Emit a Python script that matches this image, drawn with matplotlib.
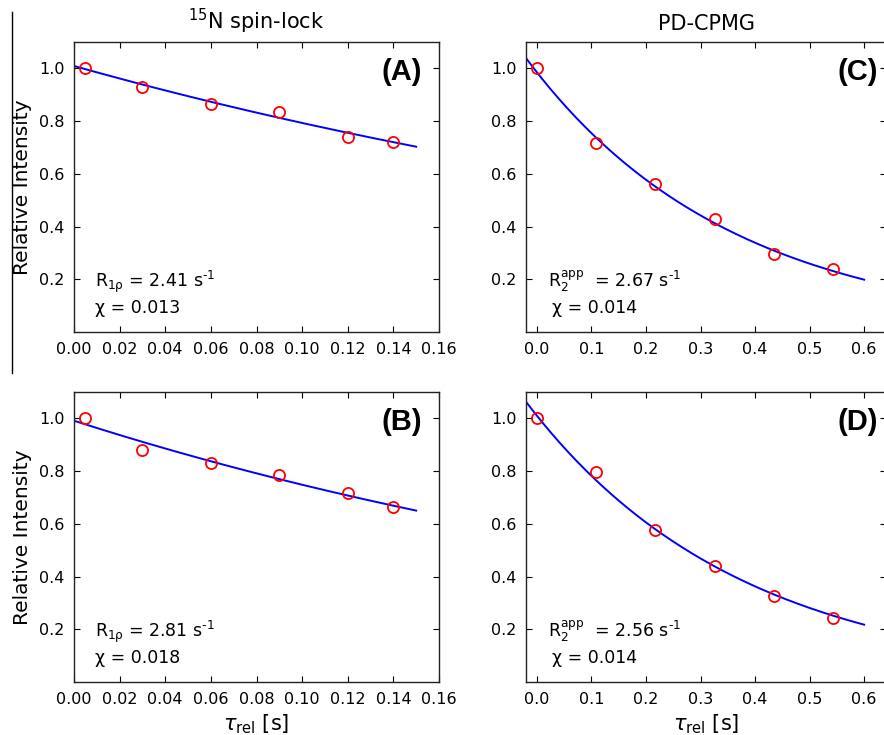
import numpy as np
import matplotlib
matplotlib.use("Agg")
import matplotlib.pyplot as plt
from matplotlib.lines import Line2D

# spin-lock panels (A, B)
sl_t = [0.005, 0.03, 0.06, 0.09, 0.12, 0.14]
sl_A = [1.0, 0.928, 0.865, 0.836, 0.739, 0.72]
sl_B = [1.0, 0.88, 0.83, 0.786, 0.716, 0.662]
# PD-CPMG panels (C, D)
cp_t = [0.0, 0.1087, 0.2174, 0.3261, 0.4348, 0.5435]
cp_C = [1.0, 0.716, 0.56, 0.429, 0.295, 0.238]
cp_D = [1.0, 0.797, 0.575, 0.441, 0.328, 0.244]

# fit parameters (amplitude, rate)
fit_A = (1.009, 2.41)
fit_B = (0.991, 2.81)
fit_C = (0.985, 2.67)
fit_D = (1.01, 2.56)

plt.rcParams['font.family'] = 'DejaVu Sans'
plt.rcParams['mathtext.fontset'] = 'dejavusans'

W, H = 884, 735
fig = plt.figure(figsize=(W / 100, H / 100), dpi=100)


def add_ax(left, top, width):
    # pixel box -> figure fractions
    return fig.add_axes([left / W, 1 - (top + 290) / H, width / W, 290 / H])


def style(ax):
    ax.tick_params(direction='in', top=True, right=True, length=4,
                   labelsize=11.5, pad=7)
    for s in ax.spines.values():
        s.set_linewidth(1.0)
        s.set_color('#222222')
    ax.set_ylim(0, 1.1)
    ax.set_yticks([0.2, 0.4, 0.6, 0.8, 1.0])


def panel(ax, t, y, fit, x0, x1, label, lab_x, rate_txt, chi_txt, tx, cx):
    tt = np.linspace(x0, x1, 200)
    ax.plot(tt, fit[0] * np.exp(-fit[1] * tt), color='#0000ff', lw=1.4)
    ax.plot(t, y, 'o', mfc='none', mec='#ff0000', ms=8, mew=1.3)
    ax.text(lab_x, 0.895, label, transform=ax.transAxes, ha='right',
            va='center', fontsize=21, fontweight='bold',
            family='Liberation Sans')
    ax.text(tx, 0.155, rate_txt, transform=ax.transAxes, fontsize=12.5)
    ax.text(cx, 0.065, chi_txt, transform=ax.transAxes, fontsize=12.5)


axA = add_ax(74, 42, 365)
axB = add_ax(74, 392, 365)
axC = add_ax(526, 42, 360)
axD = add_ax(526, 392, 360)

for ax in (axA, axB):
    style(ax)
    ax.set_xlim(0, 0.16)
    ax.set_xticks(np.arange(0, 0.161, 0.02))
    ax.set_xticklabels(['%.2f' % v for v in np.arange(0, 0.161, 0.02)])
    ax.set_ylabel('Relative Intensity', fontsize=14.5, labelpad=5)
for ax in (axC, axD):
    style(ax)
    ax.set_xlim(-0.02, 0.64)
    ax.set_xticks([0.0, 0.1, 0.2, 0.3, 0.4, 0.5, 0.6])

r1 = r'R$_{\mathregular{1ρ}}$ = %s s$^{\mathregular{‐1}}$'
r2 = r'R$_2^{\mathregular{app}}$  = %s s$^{\mathregular{‐1}}$'
panel(axA, sl_t, sl_A, fit_A, 0, 0.15, '(A)', 0.953,
      r1 % '2.41', 'χ = 0.013', 0.058, 0.058)
panel(axB, sl_t, sl_B, fit_B, 0, 0.15, '(B)', 0.953,
      r1 % '2.81', 'χ = 0.018', 0.058, 0.058)
panel(axC, cp_t, cp_C, fit_C, -0.02, 0.6, '(C)', 0.978,
      r2 % '2.67', 'χ = 0.014', 0.061, 0.073)
panel(axD, cp_t, cp_D, fit_D, -0.02, 0.6, '(D)', 0.978,
      r2 % '2.56', 'χ = 0.014', 0.061, 0.073)

axA.set_title(r'$^{\mathregular{15}}$N spin-lock', fontsize=15, pad=9)
axC.set_title('PD-CPMG', fontsize=15, pad=9)
axB.set_xlabel(r'$\tau_{\mathregular{rel}}$ [s]', fontsize=15, labelpad=4)
axD.set_xlabel(r'$\tau_{\mathregular{rel}}$ [s]', fontsize=15, labelpad=4)

# vertical rule on the left edge
fig.add_artist(Line2D([12 / W, 12 / W], [1 - 12 / H, 1 - 373 / H],
                      color='black', lw=1.0, transform=fig.transFigure))

fig.savefig('out.png', dpi=100)
